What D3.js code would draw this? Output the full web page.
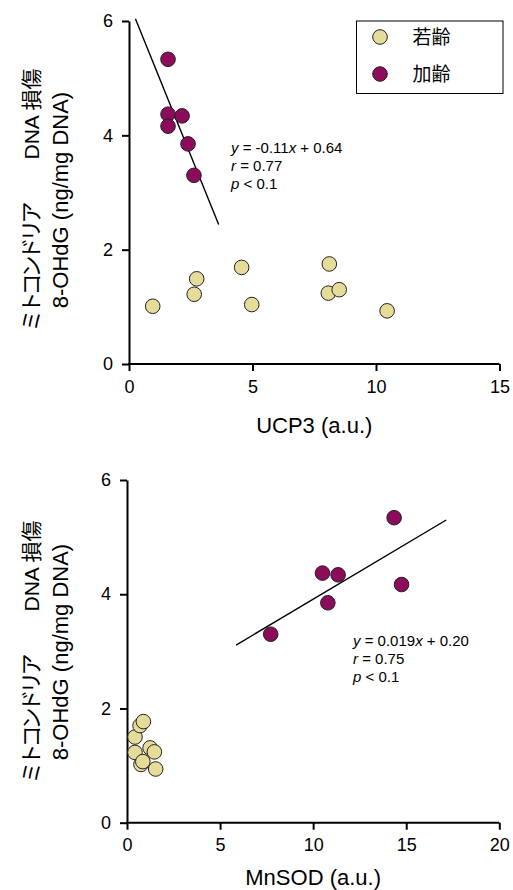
<!DOCTYPE html>
<html>
<head>
<meta charset="utf-8">
<script src="https://cdn.jsdelivr.net/npm/d3@7"></script>
<style>
    body { margin: 0; background: #fff; }
    svg text { font-family: Arial, "Liberation Sans", "Noto Sans CJK JP", sans-serif; fill: #000; }
</style>
</head>
<body>
<div id="chart"></div>
<script>
// --- data ---
var groups = ['若齢', '加齢'];
var yTicks = [0, 2, 4, 6];

// top panel: UCP3
var ucpYoungX = [0.96, 2.74, 2.64, 4.56, 4.97, 8.11, 8.07, 8.51, 10.45];
var ucpYoungY = [1.01, 1.49, 1.22, 1.69, 1.04, 1.75, 1.24, 1.30, 0.93];
var ucpAgedX = [1.58, 1.58, 2.15, 1.58, 2.39, 2.63];
var ucpAgedY = [5.33, 4.37, 4.34, 4.16, 3.85, 3.30];
var ucpFitX = [0.26, 3.63];
var ucpFitY = [6.04, 2.44];
var ucpTicks = [0, 5, 10, 15];
var ucpStats = ['-0.11', '0.64', '0.77', '0.1'];

// bottom panel: MnSOD
var sodYoungX = [0.75, 0.43, 0.43, 1.24, 1.47, 0.70, 0.88, 0.85, 1.54];
var sodYoungY = [1.02, 1.50, 1.23, 1.31, 1.24, 1.70, 1.77, 1.07, 0.94];
var sodAgedX = [14.35, 10.5, 11.34, 14.75, 10.79, 7.72];
var sodAgedY = [5.34, 4.37, 4.34, 4.17, 3.85, 3.30];
var sodFitX = [5.86, 17.15];
var sodFitY = [3.11, 5.30];
var sodTicks = [0, 5, 10, 15, 20];
var sodStats = ['0.019', '0.20', '0.75', '0.1'];

var colors = { young: '#e6dc9a', aged: '#8c0b5a' };

var svg = d3.select('#chart').append('svg')
    .attr('width', 513)
    .attr('height', 890);

function drawPanel(o) {
    var x = d3.scaleLinear().domain([0, o.xMax]).range([o.left, o.right]);
    var y = d3.scaleLinear().domain([0, 6]).range([o.bottom, o.top]);
    var g = svg.append('g');

    var xAxis = g.append('g')
        .attr('transform', 'translate(0,' + o.bottom + ')')
        .call(d3.axisBottom(x).tickValues(o.xTicks).tickFormat(d3.format('d'))
            .tickSize(7).tickSizeOuter(0).tickPadding(9));
    var yAxis = g.append('g')
        .attr('transform', 'translate(' + o.left + ',0)')
        .call(d3.axisLeft(y).tickValues(yTicks).tickFormat(d3.format('d'))
            .tickSize(7).tickSizeOuter(0).tickPadding(9));
    [xAxis, yAxis].forEach(function(a) {
        a.select('.domain').attr('stroke', '#000').attr('stroke-width', 2);
        a.selectAll('.tick line').attr('stroke', '#000').attr('stroke-width', 2);
        a.selectAll('.tick text').style('font-size', '18px').attr('fill', '#000');
    });
    // stretch the x domain line to meet the y axis
    xAxis.select('.domain').attr('d', 'M' + (o.left - 1) + ',0H' + o.right);

    // axis titles
    g.append('text')
        .attr('x', (o.left + o.right) / 2)
        .attr('y', o.bottom + o.titleGap)
        .attr('text-anchor', 'middle')
        .style('font-size', '22px')
        .text(o.xLabel);

    var yl = g.append('text')
        .attr('transform', 'translate(39,' + o.yTitleC + ') rotate(-90)')
        .attr('text-anchor', 'middle');
    var ln1 = yl.append('tspan').attr('x', 0).attr('y', 0);
    ln1.append('tspan').style('font-size', '22px').style('letter-spacing', '-4px').text('ミトコンドリア');
    ln1.append('tspan').attr('dx', 46).style('font-size', '21px').text('DNA 損傷');
    yl.append('tspan').attr('x', 0).attr('y', 29).style('font-size', '22px').text('8-OHdG (ng/mg DNA)');

    // regression line
    g.append('line')
        .attr('x1', x(o.fitX[0])).attr('y1', y(o.fitY[0]))
        .attr('x2', x(o.fitX[1])).attr('y2', y(o.fitY[1]))
        .attr('stroke', '#000')
        .attr('stroke-width', 1.4);

    // points
    var young = o.youngX.map(function(v, i) { return [v, o.youngY[i]]; });
    var aged = o.agedX.map(function(v, i) { return [v, o.agedY[i]]; });
    [[young, colors.young], [aged, colors.aged]].forEach(function(s) {
        g.append('g').selectAll('circle')
            .data(s[0])
            .enter().append('circle')
            .attr('cx', function(d) { return x(d[0]); })
            .attr('cy', function(d) { return y(d[1]); })
            .attr('r', 7.3)
            .attr('fill', s[1])
            .attr('stroke', '#222')
            .attr('stroke-width', 1);
    });

    // stats text
    var st = g.append('text')
        .attr('transform', 'translate(' + o.statX + ',' + o.statY + ')')
        .style('font-size', '15px');
    var l1 = st.append('tspan').attr('x', 0).attr('y', 0);
    l1.append('tspan').style('font-style', 'italic').text('y');
    l1.append('tspan').text(' = ' + o.stats[0]);
    st.append('tspan').style('font-style', 'italic').text('x');
    st.append('tspan').text(' + ' + o.stats[1]);
    st.append('tspan').attr('x', 0).attr('y', 18).style('font-style', 'italic').text('r');
    st.append('tspan').text(' = ' + o.stats[2]);
    st.append('tspan').attr('x', 0).attr('y', 36).style('font-style', 'italic').text('p');
    st.append('tspan').text(' < ' + o.stats[3]);

    return g;
}

drawPanel({
    left: 129, right: 499.5, top: 21, bottom: 364, xMax: 15,
    xTicks: ucpTicks, xLabel: 'UCP3 (a.u.)', titleGap: 69, yTitleC: 200,
    youngX: ucpYoungX, youngY: ucpYoungY, agedX: ucpAgedX, agedY: ucpAgedY,
    fitX: ucpFitX, fitY: ucpFitY, stats: ucpStats,
    statX: 231, statY: 153
});

drawPanel({
    left: 127, right: 499.3, top: 480, bottom: 822.7, xMax: 20,
    xTicks: sodTicks, xLabel: 'MnSOD (a.u.)', titleGap: 62, yTitleC: 652,
    youngX: sodYoungX, youngY: sodYoungY, agedX: sodAgedX, agedY: sodAgedY,
    fitX: sodFitX, fitY: sodFitY, stats: sodStats,
    statX: 353, statY: 646
});

// legend
var legend = svg.append('g').attr('transform', 'translate(356.5,21)');
legend.append('rect')
    .attr('width', 146.5).attr('height', 72.5)
    .attr('fill', '#fff').attr('stroke', '#000').attr('stroke-width', 1);
groups.forEach(function(name, i) {
    legend.append('circle')
        .attr('cx', 23.5).attr('cy', 16 + i * 37)
        .attr('r', 7.3)
        .attr('fill', i === 0 ? colors.young : colors.aged)
        .attr('stroke', '#222').attr('stroke-width', 1);
    legend.append('text')
        .attr('x', 56).attr('y', 16 + i * 37)
        .attr('dy', '0.36em')
        .style('font-size', '19px')
        .text(name);
});
</script>
</body>
</html>
